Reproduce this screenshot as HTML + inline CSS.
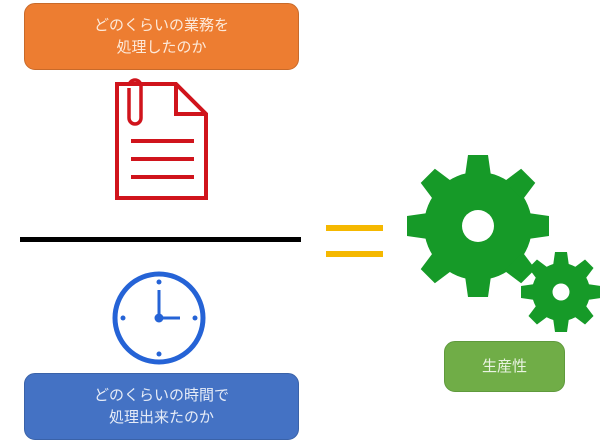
<!DOCTYPE html>
<html><head><meta charset="utf-8"><style>
body{margin:0;width:600px;height:445px;background:#fff;overflow:hidden;position:relative;font-family:"Liberation Sans","Noto Sans CJK JP",sans-serif}
.box{position:absolute;border-radius:11px;color:#fff;display:flex;align-items:center;justify-content:center;text-align:center;font-size:15px;line-height:22px;box-sizing:border-box}
</style></head><body>
<div class="box" style="left:24px;top:3px;width:275px;height:67px;background:#ed7d31;border:1px solid #c86a2a;color:#fde9d9">どのくらいの業務を<br>処理したのか</div>
<div class="box" style="left:24px;top:373px;width:275px;height:67px;background:#4472c4;border:1px solid #3a62a8;color:#e6ecf7">どのくらいの時間で<br>処理出来たのか</div>
<div class="box" style="left:444px;top:341px;width:121px;height:51px;background:#70ad47;border:1px solid #5f9a3c;color:#e9f3e2">生産性</div>
<svg width="600" height="445" style="position:absolute;left:0;top:0">
 <g fill="none" stroke="#d0141c" stroke-width="4">
  <path d="M117 84 H176 L206 114 V198 H117 Z"/>
  <path d="M176 84 V114 H206"/>
  <path d="M129 88 V118 a6 6 0 0 0 12 0 V86 a6 6 0 0 0 -12 0" stroke-width="3.5"/>
  <path d="M131 141 H194 M131 159 H194 M131 177 H194" stroke-width="4"/>
 </g>
 <rect x="20" y="237" width="281" height="5" fill="#000"/>
 <g fill="#2563d6">
  <circle cx="159" cy="318" r="44" fill="none" stroke="#2563d6" stroke-width="5"/>
  <circle cx="159" cy="318" r="4.5"/>
  <rect x="157.5" y="290" width="3" height="28"/>
  <rect x="159" y="316.5" width="21" height="3"/>
  <circle cx="159" cy="282" r="2.5"/><circle cx="159" cy="354" r="2.5"/>
  <circle cx="123" cy="318" r="2.5"/><circle cx="195" cy="318" r="2.5"/>
 </g>
 <rect x="326" y="225" width="57" height="6" fill="#f5b800"/>
 <rect x="326" y="251" width="57" height="6" fill="#f5b800"/>
 <g fill="#169a28">
  <g transform="translate(478 226)">
   <circle r="54"/>
   <g id="t"><path d="M-13 -50 L-10 -71 H10 L13 -50 Z"/></g>
   <use href="#t" transform="rotate(45)"/><use href="#t" transform="rotate(90)"/><use href="#t" transform="rotate(135)"/>
   <use href="#t" transform="rotate(180)"/><use href="#t" transform="rotate(225)"/><use href="#t" transform="rotate(270)"/><use href="#t" transform="rotate(315)"/>
   <circle r="16" fill="#fff"/>
  </g>
  <g transform="translate(561 292)">
   <circle r="29"/>
   <g id="s"><path d="M-8 -26 L-6 -40 H6 L8 -26 Z"/></g>
   <use href="#s" transform="rotate(45)"/><use href="#s" transform="rotate(90)"/><use href="#s" transform="rotate(135)"/>
   <use href="#s" transform="rotate(180)"/><use href="#s" transform="rotate(225)"/><use href="#s" transform="rotate(270)"/><use href="#s" transform="rotate(315)"/>
   <circle r="8.5" fill="#fff"/>
  </g>
 </g>
</svg>
</body></html>
